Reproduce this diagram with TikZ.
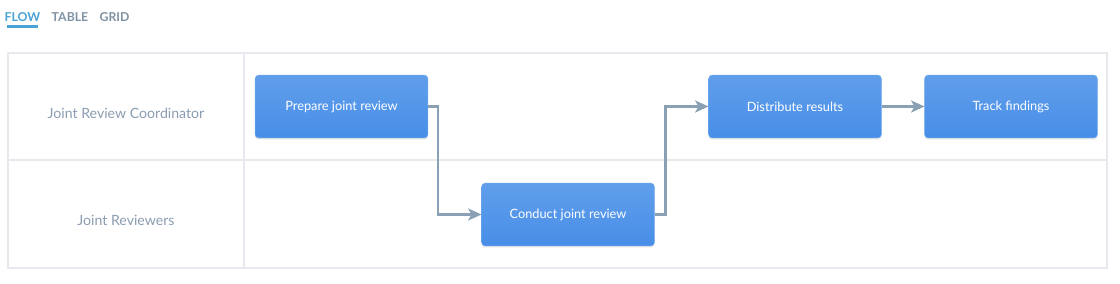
\documentclass[tikz,border=0pt]{standalone}
\usepackage{fontspec}
\setmainfont{Lato}
\usetikzlibrary{arrows.meta,shadows}
\definecolor{taskTop}{RGB}{96,158,234}
\definecolor{taskBottom}{RGB}{72,142,232}
\definecolor{flowGray}{RGB}{138,160,180}
\definecolor{laneText}{RGB}{138,156,176}
\definecolor{gridLine}{RGB}{232,233,238}
\definecolor{tabBlue}{RGB}{74,163,212}
\definecolor{tabGray}{RGB}{127,146,164}

\tikzset{
  taskbox/.style={rounded corners=2.5pt, top color=taskTop, bottom color=taskBottom,
    draw=taskTop!90, line width=0.3pt, text=white, font=\fontsize{9.6}{11}\selectfont,
    minimum width=129.5pt, minimum height=47pt, inner sep=0pt,
    drop shadow={shadow xshift=0pt, shadow yshift=-1.2pt, opacity=0.18, fill=black!60}},
  flowarrow/.style={flowGray, line width=1.7pt, -{Stealth[length=10pt,width=9pt,inset=2.5pt]}},
  lanelabel/.style={text=laneText, font=\fontsize{10.6}{12}\selectfont},
  tablabel/.style={text=tabGray, font=\bfseries\fontsize{9.2}{10}\selectfont, inner sep=0pt}
}

\begin{document}
\begin{tikzpicture}[x=0.75pt,y=-0.75pt]
\useasboundingbox (0,0) rectangle (1120,283);

% tabs
\node[tablabel, text=tabBlue] (flow) at (22.5,17.5) {FLOW};
\node[tablabel] (table) at (70,17.5) {TABLE};
\node[tablabel] (grid) at (114.5,17.5) {GRID};
\draw[tabBlue, line width=1.8pt] (7,26.5) -- (38,26.5);

% lanes
\draw[gridLine, line width=1pt] (8,53) rectangle (1107,268);
\draw[gridLine, line width=1pt] (8,160) -- (1107,160);
\draw[gridLine, line width=1pt] (244,53) -- (244,268);

\node[lanelabel] (coord) at (126,113) {Joint Review Coordinator};
\node[lanelabel] (revs) at (126,220.5) {Joint Reviewers};

% tasks
\node[taskbox] (prep) at (341.5,106.5) {Prepare joint review};
\node[taskbox] (cond) at (568,214.5) {Conduct joint review};
\node[taskbox] (dist) at (795,106.5) {Distribute results};
\node[taskbox] (track) at (1011,106.5) {Track findings};

% connectors
\draw[flowarrow] (prep.east) -- ++(10,0) |- (cond.west);
\draw[flowarrow] (cond.east) -- ++(11,0) |- (dist.west);
\draw[flowarrow] (dist) -- (track);

\end{tikzpicture}
\end{document}
